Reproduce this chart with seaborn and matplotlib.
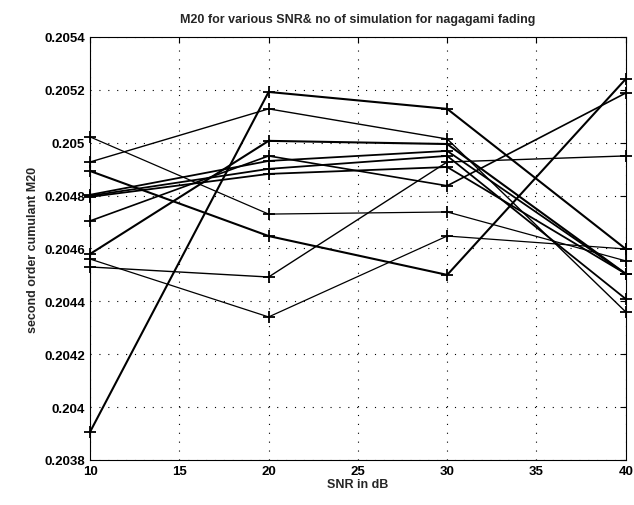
import matplotlib
matplotlib.use("Agg")

import numpy as np
import pandas as pd
import matplotlib.pyplot as plt
import seaborn as sns
from matplotlib.ticker import FuncFormatter

# SNR points (dB) and the M20 estimate of each simulation run
snr = [10, 20, 30, 40]
run_a = [0.203906, 0.205192, 0.205128, 0.204598]
run_b = [0.205022, 0.204730, 0.204738, 0.204553]
run_c = [0.204579, 0.205007, 0.204995, 0.204504]
run_d = [0.204893, 0.204647, 0.204500, 0.205241]
run_e = [0.204530, 0.204492, 0.204927, 0.204950]
run_f = [0.204560, 0.204341, 0.204647, 0.204598]
run_g = [0.204927, 0.205128, 0.205014, 0.204360]
run_h = [0.204704, 0.204950, 0.204837, 0.205188]
run_i = [0.204803, 0.204931, 0.204969, 0.204504]
run_j = [0.204799, 0.204901, 0.204950, 0.204409]
run_k = [0.204795, 0.204882, 0.204908, 0.204504]
runs = [run_a, run_b, run_c, run_d, run_e, run_f, run_g, run_h, run_i, run_j, run_k]
thick = [1.5, 0.9, 1.5, 1.5, 1.0, 0.9, 1.0, 1.2, 1.3, 1.3, 1.3]

x_ticks = [10, 15, 20, 25, 30, 35, 40]
y_ticks = [0.2038, 0.204, 0.2042, 0.2044, 0.2046, 0.2048, 0.205, 0.2052, 0.2054]

sns.set_style("white")
plt.rcParams['font.family'] = ['Liberation Sans', 'DejaVu Sans']

fig = plt.figure(figsize=(6.34, 5.06), dpi=100)
ax = fig.add_axes([0.142, 0.089, 0.845, 0.836])

for k, (vals, lw) in enumerate(zip(runs, thick)):
    df = pd.DataFrame({'snr': snr, 'm20': vals})
    sns.lineplot(data=df, x='snr', y='m20', ax=ax, color='black', linewidth=lw,
                 marker='+', markersize=9, markeredgewidth=1.3, markeredgecolor='black',
                 clip_on=False, zorder=3)

ax.set_xlim(10, 40)
ax.set_ylim(0.2038, 0.2054)
ax.set_xticks(x_ticks)
ax.set_yticks(y_ticks)
ax.yaxis.set_major_formatter(FuncFormatter(lambda v, p: f"{v:.4f}".rstrip('0')))
ax.grid(True, color='black', linestyle=(0, (1, 7)), linewidth=0.8)
ax.tick_params(direction='in', length=4, width=0.8, top=True, right=True,
               labelsize=9.5, colors='black')
for lbl in ax.get_xticklabels() + ax.get_yticklabels():
    lbl.set_fontweight('bold')
for s in ax.spines.values():
    s.set_color('black')
    s.set_linewidth(0.8)

ax.set_title("M20 for various SNR& no of simulation for nagagami fading",
             fontsize=9, fontweight='bold', pad=11)
ax.set_xlabel("SNR in dB", fontsize=9, fontweight='bold', labelpad=1)
ax.set_ylabel("second order cumulant M20", fontsize=9, fontweight='bold', labelpad=4)

fig.savefig("out.png", dpi=100)
